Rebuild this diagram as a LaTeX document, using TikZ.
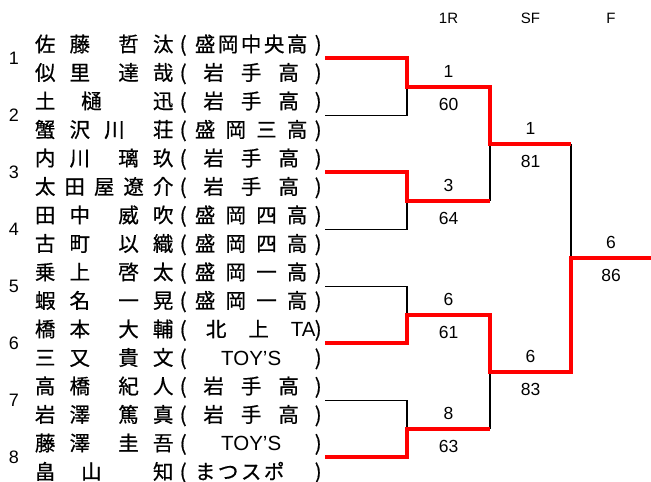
\documentclass[tikz,border=0pt]{standalone}
\usepackage{fontspec}
\setmainfont{Liberation Sans}
\newfontfamily\jpfont[FakeBold=0.6]{Noto Sans CJK JP}
\usepackage{tikz}
\usetikzlibrary{positioning}
\newcommand\player[2]{\makebox[138.5pt][s]{#1}\hspace{3.75pt}\makebox[12pt]{(}\hspace{5.75pt}\makebox[112.5pt][s]{#2}\hspace{4.75pt}\makebox[12pt]{)}}
\newcommand\iwate{\hfil 岩\hfil\hfil 手\hfil\hfil 高\hfil}
\newcommand\morioka[1]{盛\hfil 岡\hfil #1\hfil 高}
\newcommand\toys{\hfil{\rmfamily TOY’S}\hfil}

\begin{document}
\begin{tikzpicture}[x=1pt, y=-1pt,
    row/.style={anchor=west, inner sep=0pt, font=\jpfont\fontsize{20.5}{20.5}\selectfont, text height=18pt, text depth=2.5pt},
    seed/.style={inner sep=0pt, font=\fontsize{18}{18}\selectfont, text height=12.9pt, text depth=0pt},
    score/.style={inner sep=0pt, text=black, font=\fontsize{17.5}{17.5}\selectfont, text height=12.5pt, text depth=0pt},
    head/.style={inner sep=0pt, font=\fontsize{15}{15}\selectfont, text height=10.7pt, text depth=0pt},
    lose/.style={black, line width=1.3pt},
    win/.style={red, line width=4pt}]
    \useasboundingbox (0,0) rectangle (651,482);
    \node[head] (h1) at (448.5,18) {1R};
    \node[head] (h2) at (530.5,18) {SF};
    \node[head] (h3) at (611,18) {F};
    \node[row] (r1) at (34.75,44) {\player{佐\hfil 藤\hfil\hfil 哲\hfil 汰}{\morioka{中\hfil 央}}};
    \node[row] (r2) at (34.75,72.5) {\player{似\hfil 里\hfil\hfil 達\hfil 哉}{\iwate}};
    \node[row] (r3) at (34.75,101) {\player{土\hfil 樋\hfil\hfil 迅}{\iwate}};
    \node[row] (r4) at (34.75,129.5) {\player{蟹\hfil 沢\hfil 川\hfil\hfil 荘}{\morioka{三}}};
    \node[row] (r5) at (34.75,158) {\player{内\hfil 川\hfil\hfil 璃\hfil 玖}{\iwate}};
    \node[row] (r6) at (34.75,186.5) {\player{太\hfil 田\hfil 屋\hfil 遼\hfil 介}{\iwate}};
    \node[row] (r7) at (34.75,215) {\player{田\hfil 中\hfil\hfil 威\hfil 吹}{\morioka{四}}};
    \node[row] (r8) at (34.75,243.5) {\player{古\hfil 町\hfil\hfil 以\hfil 織}{\morioka{四}}};
    \node[row] (r9) at (34.75,272) {\player{乗\hfil 上\hfil\hfil 啓\hfil 太}{\morioka{一}}};
    \node[row] (r10) at (34.75,300.5) {\player{蝦\hfil 名\hfil\hfil 一\hfil 晃}{\morioka{一}}};
    \node[row] (r11) at (34.75,329) {\player{橋\hfil 本\hfil\hfil 大\hfil 輔}{\hfil 北\hfil\hfil 上\hfil\hfil{\rmfamily TA}\hspace*{-8pt}}};
    \node[row] (r12) at (34.75,357.5) {\player{三\hfil 又\hfil\hfil 貴\hfil 文}{\toys}};
    \node[row] (r13) at (34.75,386) {\player{高\hfil 橋\hfil\hfil 紀\hfil 人}{\iwate}};
    \node[row] (r14) at (34.75,414.5) {\player{岩\hfil 澤\hfil\hfil 篤\hfil 真}{\iwate}};
    \node[row] (r15) at (34.75,443) {\player{藤\hfil 澤\hfil\hfil 圭\hfil 吾}{\toys}};
    \node[row] (r16) at (34.75,471.5) {\player{畠\hfil 山\hfil\hfil 知}{ま\hfil つ\hfil ス\hfil ポ\hfil\hphantom{高}}};
    \node[seed] (n1) at (14,58.25) {1};
    \node[seed] (n2) at (14,115.25) {2};
    \node[seed] (n3) at (14,172.25) {3};
    \node[seed] (n4) at (14,229.25) {4};
    \node[seed] (n5) at (14,286.25) {5};
    \node[seed] (n6) at (14,343.25) {6};
    \node[seed] (n7) at (14,400.25) {7};
    \node[seed] (n8) at (14,457.25) {8};
    \coordinate (e1) at (325,58.25);
    \coordinate (e2) at (325,115.25);
    \coordinate (e3) at (325,172.25);
    \coordinate (e4) at (325,229.25);
    \coordinate (e5) at (325,286.25);
    \coordinate (e6) at (325,343.25);
    \coordinate (e7) at (325,400.25);
    \coordinate (e8) at (325,457.25);
    \coordinate (q1) at (407,86.75);
    \coordinate (q2) at (407,200.75);
    \coordinate (q3) at (407,314.75);
    \coordinate (q4) at (407,428.75);
    \coordinate (s1) at (490,143.75);
    \coordinate (s2) at (490,371.75);
    \coordinate (f) at (571,257.75);
    \coordinate (c) at (651,257.75);
    \draw[lose] (e2) -| (q1);
    \draw[lose] (e4) -| (q2);
    \draw[lose] (e5) -| (q3);
    \draw[lose] (e7) -| (q4);
    \draw[lose] (q2 -| s1) -- (s1);
    \draw[lose] (q4 -| s2) -- (s2);
    \draw[lose] (s1 -| f) -- (f);
    \draw[win] (e1) -| (q1) -- node[score, above=7.5pt] (w1) {1} node[score, below=9.5pt] (p1) {60} (q1 -| s1)
        -- (s1) -- node[score, above=7.5pt] (w5) {1} node[score, below=9.5pt] (p5) {81} (s1 -| f);
    \draw[win] (e3) -| (q2) -- node[score, above=7.5pt] (w2) {3} node[score, below=9.5pt] (p2) {64} (q2 -| s1);
    \draw[win] (e6) -| (q3) -- node[score, above=7.5pt] (w3) {6} node[score, below=9.5pt] (p3) {61} (q3 -| s2)
        -- (s2) -- node[score, above=7.5pt] (w6) {6} node[score, below=9.5pt] (p6) {83} (s2 -| f)
        -- (f) -- node[score, above=7.5pt] (w7) {6} node[score, below=9.5pt] (p7) {86} (c);
    \draw[win] (e8) -| (q4) -- node[score, above=7.5pt] (w4) {8} node[score, below=9.5pt] (p4) {63} (q4 -| s2);
\end{tikzpicture}
\end{document}
